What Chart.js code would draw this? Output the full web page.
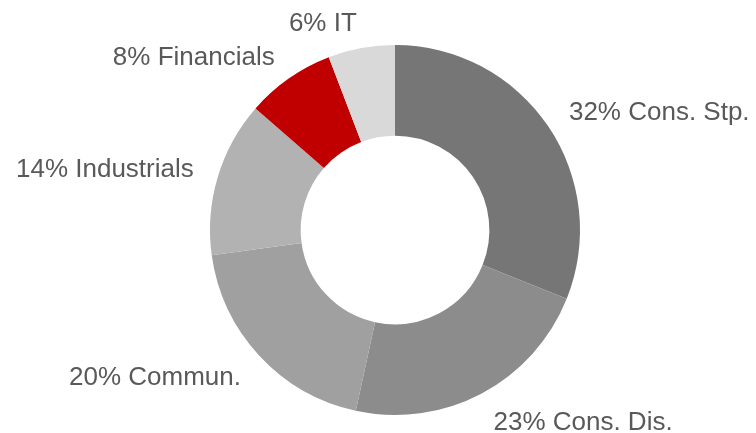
<!DOCTYPE html>
<html>
<head>
<meta charset="utf-8">
<script src="https://cdn.jsdelivr.net/npm/chart.js@4/dist/chart.umd.min.js"></script>
<style>
  html, body { margin: 0; padding: 0; background: #ffffff; }
  #wrap { width: 756px; height: 433px; position: relative; }
</style>
</head>
<body>
<div id="wrap"><canvas id="c" width="756" height="433"></canvas></div>
<script>
const categories = ["Cons. Stp.", "Cons. Dis.", "Commun.", "Industrials", "Financials", "IT"];
const shares = [32, 23, 20, 14, 8, 6];
const sliceColors = ["#767676", "#8c8c8c", "#a0a0a0", "#b2b2b2", "#c00000", "#d9d9d9"];

const labelPlugin = {
  id: 'outsideLabels',
  afterDatasetsDraw(chart) {
    const ctx = chart.ctx;
    const meta = chart.getDatasetMeta(0);
    ctx.save();
    ctx.font = '26px "Liberation Sans", Arial, sans-serif';
    ctx.fillStyle = '#595959';
    ctx.textBaseline = 'middle';
    meta.data.forEach((arc, i) => {
      const mid = (arc.startAngle + arc.endAngle) / 2;
      const r = arc.outerRadius + 25;
      const x = arc.x + Math.cos(mid) * r;
      const y = arc.y + Math.sin(mid) * r + Math.max(0, Math.sin(mid)) * 8;
      ctx.textAlign = Math.cos(mid) >= 0 ? 'left' : 'right';
      ctx.fillText(shares[i] + '% ' + categories[i], x, y);
    });
    ctx.restore();
  }
};

new Chart(document.getElementById('c'), {
  type: 'doughnut',
  data: {
    labels: categories,
    datasets: [{
      data: shares,
      backgroundColor: sliceColors,
      borderWidth: 0
    }]
  },
  options: {
    responsive: false,
    animation: false,
    cutout: '51%',
    layout: { padding: { left: 210, right: 176, top: 45, bottom: 18 } },
    plugins: {
      legend: { display: false },
      tooltip: { enabled: false }
    }
  },
  plugins: [labelPlugin]
});
</script>
</body>
</html>
